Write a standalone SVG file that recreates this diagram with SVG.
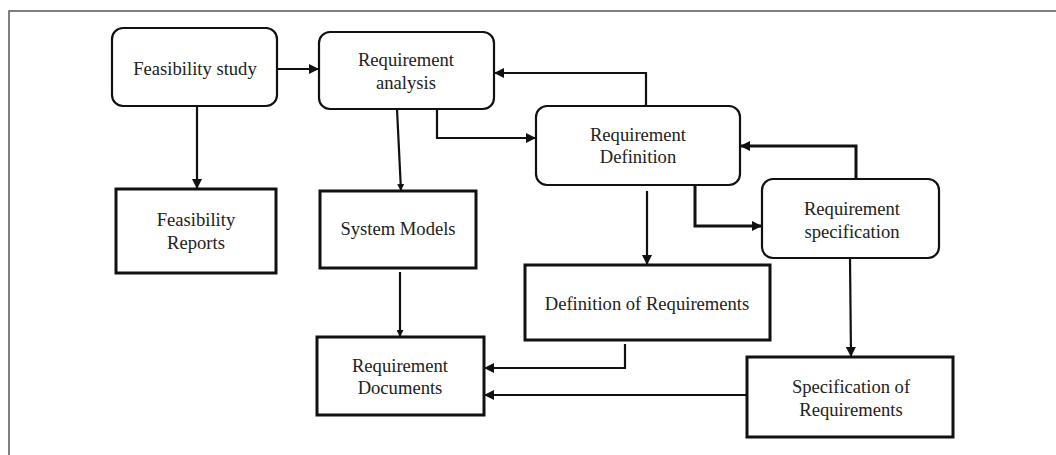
<svg xmlns="http://www.w3.org/2000/svg" width="1056" height="455" viewBox="0 0 1056 455">
<style>
.frame{fill:none;stroke:#555;stroke-width:1.5}
.rbox{fill:#fff;stroke:#111;stroke-width:2.2}
.box{fill:#fff;stroke:#111;stroke-width:3}
.t{font-size:18.6px;fill:#222;text-anchor:middle}
.c{fill:none;stroke:#111;stroke-width:2.2}
.ct{fill:none;stroke:#111;stroke-width:3}
</style>
<defs>
<marker id="ah" viewBox="0 0 10 10" refX="10" refY="5" markerWidth="10" markerHeight="10" markerUnits="userSpaceOnUse" orient="auto">
<path d="M0,0 L10,5 L0,10 z" fill="#111"/>
</marker>
<marker id="ahs" viewBox="0 0 10 10" refX="10" refY="5" markerWidth="7" markerHeight="7" markerUnits="userSpaceOnUse" orient="auto">
<path d="M0,0 L10,5 L0,10 z" fill="#111"/>
</marker>
</defs>
<rect width="1056" height="455" fill="#fff"/>
<path class="frame" d="M9,455 L9,11 L1056,11"/>

<g id="connectors">
<path class="c" d="M277,69 L319,69" marker-end="url(#ah)"/>
<path class="c" d="M197,106 L197,189" marker-end="url(#ah)"/>
<path class="c" d="M397,109 L401,191" marker-end="url(#ahs)"/>
<path class="c" d="M400,272 L400,337" marker-end="url(#ahs)"/>
<path class="c" d="M437,109 L437,138 L536,138" marker-end="url(#ah)"/>
<path class="c" d="M646,106 L646,73 L494,73" marker-end="url(#ah)"/>
<path class="c" d="M647,191 L647,265" marker-end="url(#ah)"/>
<path class="ct" d="M695,182 L695,226 L762,226" marker-end="url(#ah)"/>
<path class="ct" d="M856,179 L856,146 L740,146" marker-end="url(#ah)"/>
<path class="c" d="M850,258 L851,357" marker-end="url(#ah)"/>
<path class="c" d="M625,344 L625,368 L484,368" marker-end="url(#ah)"/>
<path class="c" d="M747,395 L484,395" marker-end="url(#ah)"/>
</g>

<g font-family="'Liberation Serif', 'Times New Roman', 'DejaVu Serif', serif">
<g id="feasibility-study">
<rect class="rbox" x="112" y="28" width="165" height="78" rx="11"/>
<text class="t" x="195" y="75">Feasibility study</text>
</g>
<g id="requirement-analysis">
<rect class="rbox" x="319" y="32" width="175" height="77" rx="11"/>
<text class="t" x="406" y="66">Requirement</text>
<text class="t" x="406" y="89">analysis</text>
</g>
<g id="feasibility-reports">
<rect class="box" x="116" y="189" width="160" height="84"/>
<text class="t" x="196" y="226">Feasibility</text>
<text class="t" x="196" y="249">Reports</text>
</g>
<g id="system-models">
<rect class="box" x="320" y="191" width="156" height="77"/>
<text class="t" x="398" y="235">System Models</text>
</g>
<g id="requirement-documents">
<rect class="box" x="317" y="337" width="167" height="78"/>
<text class="t" x="400" y="372">Requirement</text>
<text class="t" x="400" y="394">Documents</text>
</g>
<g id="requirement-definition">
<rect class="rbox" x="536" y="106" width="204" height="79" rx="11"/>
<text class="t" x="638" y="141">Requirement</text>
<text class="t" x="638" y="163">Definition</text>
</g>
<g id="requirement-specification">
<rect class="rbox" x="762" y="179" width="177" height="79" rx="11"/>
<text class="t" x="852" y="215">Requirement</text>
<text class="t" x="852" y="238">specification</text>
</g>
<g id="definition-of-requirements">
<rect class="box" x="525" y="265" width="245" height="75"/>
<text class="t" x="647" y="310">Definition of Requirements</text>
</g>
<g id="specification-of-requirements">
<rect class="box" x="747" y="357" width="206" height="80"/>
<text class="t" x="851" y="393">Specification of</text>
<text class="t" x="851" y="416">Requirements</text>
</g>
</g>
</svg>
